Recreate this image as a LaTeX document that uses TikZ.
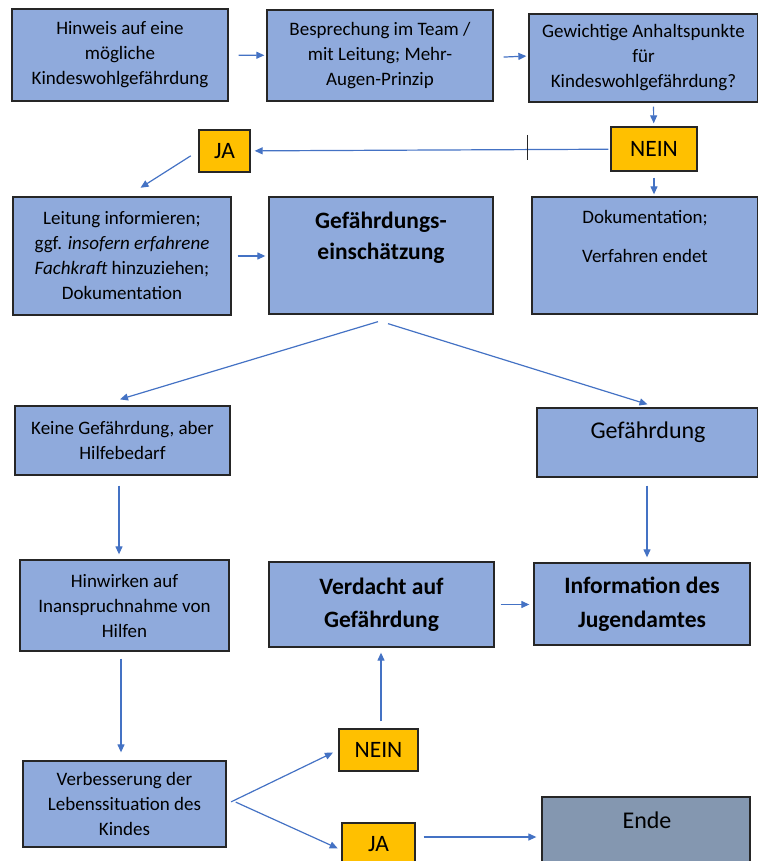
\documentclass[tikz,border=0pt]{standalone}
\usepackage{fontspec}
\setmainfont{Carlito}
\usetikzlibrary{positioning,calc,arrows.meta}
\definecolor{boxblue}{HTML}{8FAADC}
\definecolor{endgray}{HTML}{8497B0}
\definecolor{answer}{HTML}{FFC000}
\definecolor{flowblue}{HTML}{4472C4}

\begin{document}
\begin{tikzpicture}[x=1pt,y=1pt,
    box/.style={rectangle,draw=black!85,line width=1.3pt,fill=boxblue,inner sep=0pt,align=center,anchor=center,font=\fontsize{19}{25}\selectfont},
    answerbox/.style={rectangle,draw=black!85,line width=1.3pt,fill=answer,inner sep=0pt,anchor=center,font=\fontsize{23.5}{28}\selectfont},
    boxtext/.style={align=center,inner sep=0pt,anchor=center},
    flow/.style={draw=flowblue,line width=1.2pt,-{Triangle[length=8pt,width=7pt]}}]
    \useasboundingbox (0,0) rectangle (757,-861);
    \node[box,minimum width=216,minimum height=92] at (120,-55) (HW) {Hinweis auf eine\\mögliche\\Kindeswohlgefährdung};
    \node[box,minimum width=226,minimum height=91] at (380,-55.5) (BT) {Besprechung im Team /\\mit Leitung; Mehr-\\Augen-Prinzip};
    \node[box,minimum width=229,minimum height=88] at (643.5,-58) (GA) {Gewichtige Anhaltspunkte\\für\\Kindeswohlgefährdung?};
    \node[answerbox,minimum width=51,minimum height=42] at (224.5,-151) (JA) {JA};
    \node[answerbox,minimum width=86,minimum height=44] at (654,-149) (NE) {NEIN};
    \node[box,minimum width=218,minimum height=118] at (122,-256) (LI) {Leitung informieren;\\ggf. \textit{insofern erfahrene}\\\textit{Fachkraft} hinzuziehen;\\Dokumentation};
    \node[box,minimum width=224,minimum height=117] at (381,-255.5) (GE) {};
    \node[boxtext,font=\fontsize{23.5}{31}\selectfont\bfseries] at (381,-237.5) (GEt) {Gefährdungs-\\einschätzung};
    \node[box,minimum width=226,minimum height=117] at (645,-255.5) (DV) {};
    \node[boxtext,font=\fontsize{19}{25}\selectfont] at (645,-236.5) (DVt) {Dokumentation;\\[14pt]Verfahren endet};
    \node[box,minimum width=215,minimum height=69] at (122.5,-440.5) (KG) {Keine Gefährdung, aber\\Hilfebedarf};
    \node[box,minimum width=221,minimum height=69] at (647.5,-442.5) (GF) {};
    \node[boxtext,font=\fontsize{24}{28}\selectfont] at (648,-432) (GFt) {Gefährdung};
    \node[box,minimum width=209,minimum height=91] at (124.5,-605.5) (HI) {Hinwirken auf\\Inanspruchnahme von\\Hilfen};
    \node[box,minimum width=225,minimum height=85,font=\fontsize{23.5}{33}\selectfont\bfseries] at (381.5,-604.5) (VG) {Verdacht auf\\Gefährdung};
    \node[box,minimum width=216,minimum height=82,font=\fontsize{23.5}{34}\selectfont\bfseries] at (642,-604) (IJ) {Information des\\Jugendamtes};
    \node[box,minimum width=203,minimum height=86] at (124.5,-804) (VL) {Verbesserung der\\Lebenssituation des\\Kindes};
    \node[answerbox,minimum width=79,minimum height=42] at (378.5,-750) (NE2) {NEIN};
    \node[answerbox,minimum width=73,minimum height=42] at (378.5,-844) (JA2) {JA};
    \node[box,fill=endgray,minimum width=208,minimum height=73] at (646,-833.5) (EN) {};
    \node[boxtext,font=\fontsize{24}{28}\selectfont] at (647,-820) (ENt) {Ende};
    \draw[flow,shorten <=10pt,shorten >=2pt] (HW) -- (BT);
    \draw[flow,shorten <=10pt,shorten >=2pt] ([yshift=-2pt]BT.east) -- ([yshift=2pt]GA.west);
    \draw[flow,shorten <=4pt,shorten >=3pt] ([xshift=10pt]GA.south) -- (NE);
    \draw[flow,shorten <=2pt,shorten >=4pt] (NE) -- (JA);
    \draw[line width=0.8pt,black!85] (527,-135) -- (527,-160);
    \draw[flow,shorten <=9pt,shorten >=16pt] (JA.west) -- ([xshift=5pt]LI.north);
    \draw[flow,shorten <=6pt,shorten >=2pt] (NE) -- (NE.south |- DV.north);
    \draw[flow,shorten <=6pt,shorten >=3pt] (LI.east) -- (GE.west |- LI.east);
    \draw[flow] ([shift={(-3,-7)}]GE.south) -- ([shift={(-2.5,6)}]KG.north);
    \draw[flow] ([shift={(7,-9)}]GE.south) -- ([yshift=3pt]GF.north);
    \draw[flow,shorten <=10pt,shorten >=5pt] ([xshift=-3.5pt]KG.south) -- ([xshift=-5.5pt]HI.north);
    \draw[flow,shorten <=8pt,shorten >=5pt] ([xshift=-0.5pt]GF.south) -- ([xshift=-0.5pt]GF.south |- IJ.north);
    \draw[flow,shorten <=7pt,shorten >=8pt] ([xshift=-3.5pt]HI.south) -- ([xshift=-3.5pt]VL.north);
    \draw[flow,shorten <=5pt,shorten >=6pt] (VL.east) -- (NE2.west);
    \draw[flow,shorten <=10pt,shorten >=4pt] ([yshift=6pt]VL.east) -- ([yshift=-6pt]JA2.west);
    \draw[flow,shorten <=8pt,shorten >=5pt] ([yshift=7pt]JA2.east) -- ([yshift=-3.5pt]EN.west);
    \draw[flow,shorten <=7pt,shorten >=5pt] ([xshift=-0.5pt]VG.south |- NE2.north) -- ([xshift=-0.5pt]VG.south);
    \draw[flow,shorten <=6pt,shorten >=4pt] (VG.east) -- (VG.east -| IJ.west);
\end{tikzpicture}
\end{document}
